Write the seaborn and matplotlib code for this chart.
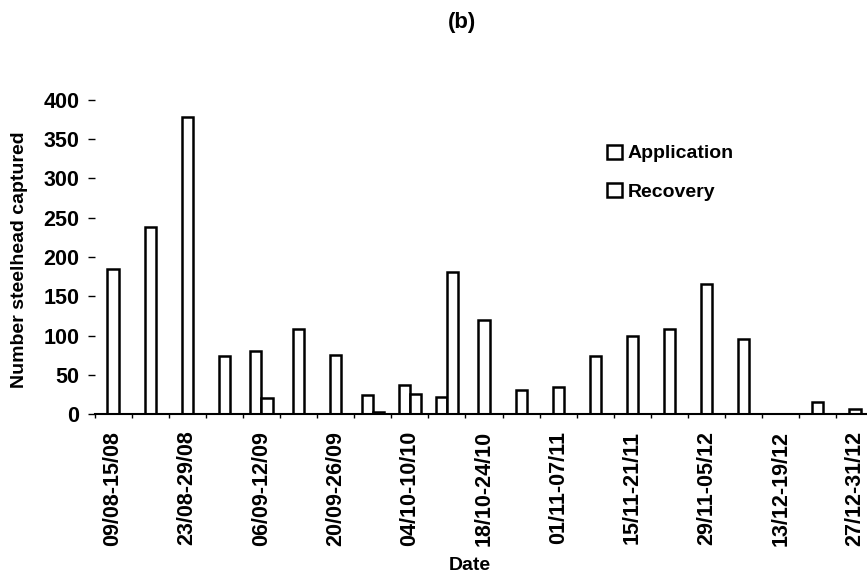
import matplotlib
matplotlib.use("Agg")
import matplotlib.pyplot as plt
from matplotlib.patches import Patch
from matplotlib.ticker import FixedLocator
import seaborn as sns
import pandas as pd

weeks = ["09/08-15/08", "16/08-22/08", "23/08-29/08", "30/08-05/09", "06/09-12/09",
         "13/09-19/09", "20/09-26/09", "27/09-03/10", "04/10-10/10", "11/10-17/10",
         "18/10-24/10", "25/10-31/10", "01/11-07/11", "08/11-14/11", "15/11-21/11",
         "22/11-28/11", "29/11-05/12", "06/12-12/12", "13/12-19/12", "20/12-26/12",
         "27/12-31/12"]
application = [185, 238, 378, 74, 80, 108, 75, 24, 37, 22, 120, 30, 35, 74, 100,
               108, 165, 95, 0, 15, 7]
recovery = [0, 0, 0, 0, 21, 0, 0, 3, 25, 181, 0, 0, 0, 0, 0,
            0, 0, 0, 0, 0, 0]
series_names = ["Application", "Recovery"]
tick_labels = [w if i % 2 == 0 else "" for i, w in enumerate(weeks)]
yticks = [0, 50, 100, 150, 200, 250, 300, 350, 400]

sns.set_style("white")
plt.rcParams["font.family"] = ["Liberation Sans", "DejaVu Sans"]
plt.rcParams["text.color"] = "black"
plt.rcParams["axes.labelcolor"] = "black"
plt.rcParams["xtick.color"] = "black"
plt.rcParams["ytick.color"] = "black"

rows = []
for w, a, r in zip(weeks, application, recovery):
    rows.append({"week": w, "period": "Application", "count": a, "both": a > 0 and r > 0})
    rows.append({"week": w, "period": "Recovery", "count": r, "both": a > 0 and r > 0})
df = pd.DataFrame(rows)
df_pair = df[df["both"]]
df_single = df[(~df["both"]) & (df["count"] > 0)]

fig = plt.figure(figsize=(8.67, 5.8), dpi=100)
ax = fig.add_axes([0.109, 0.2862, 0.8985, 0.5414])

style = dict(edgecolor="black", linewidth=1.8, errorbar=None, ax=ax)
sns.barplot(data=df_single, x="week", y="count", order=weeks, width=0.3,
            color="white", **style)
sns.barplot(data=df_pair, x="week", y="count", hue="period", hue_order=series_names,
            order=weeks, width=0.6, dodge=True, palette=["white", "white"],
            legend=False, **style)

ax.set_xlim(-0.5, len(weeks) - 0.5)
ax.set_ylim(0, 400)
ax.set_yticks(yticks)
ax.set_yticklabels([str(t) for t in yticks], fontsize=15.5, fontweight="bold")
ax.set_xticks(range(len(weeks)))
ax.set_xticklabels(tick_labels, rotation=90, fontsize=15.5, fontweight="bold")
ax.tick_params(axis="x", which="major", length=0, pad=12)
ax.xaxis.set_minor_locator(FixedLocator([i + 0.5 for i in range(-1, len(weeks))]))
ax.tick_params(axis="x", which="minor", length=3, width=1, direction="out", bottom=True)
ax.tick_params(axis="y", length=5, width=1, direction="out", left=True, pad=6)

for s in ["top", "right", "left"]:
    ax.spines[s].set_visible(False)
ax.spines["bottom"].set_color("black")
ax.spines["bottom"].set_linewidth(1.5)

ax.set_xlabel("Date", fontsize=14, fontweight="bold")
ax.xaxis.set_label_coords(0.482, -0.455)
ax.set_ylabel("Number steelhead captured", fontsize=14, fontweight="bold")
ax.yaxis.set_label_coords(-0.0854, 0.49)

handles = [Patch(facecolor="white", edgecolor="black", linewidth=1.8) for _ in series_names]
ax.legend(handles, series_names, loc="upper left", bbox_to_anchor=(0.648, 0.883),
          frameon=False, prop={"weight": "bold", "size": 14},
          handlelength=0.75, handleheight=0.75, handletextpad=0.3, labelspacing=1.05,
          borderaxespad=0)

fig.text(0.533, 0.962, "(b)", ha="center", va="center", fontsize=16, fontweight="bold")

fig.savefig("out.png", dpi=100)
